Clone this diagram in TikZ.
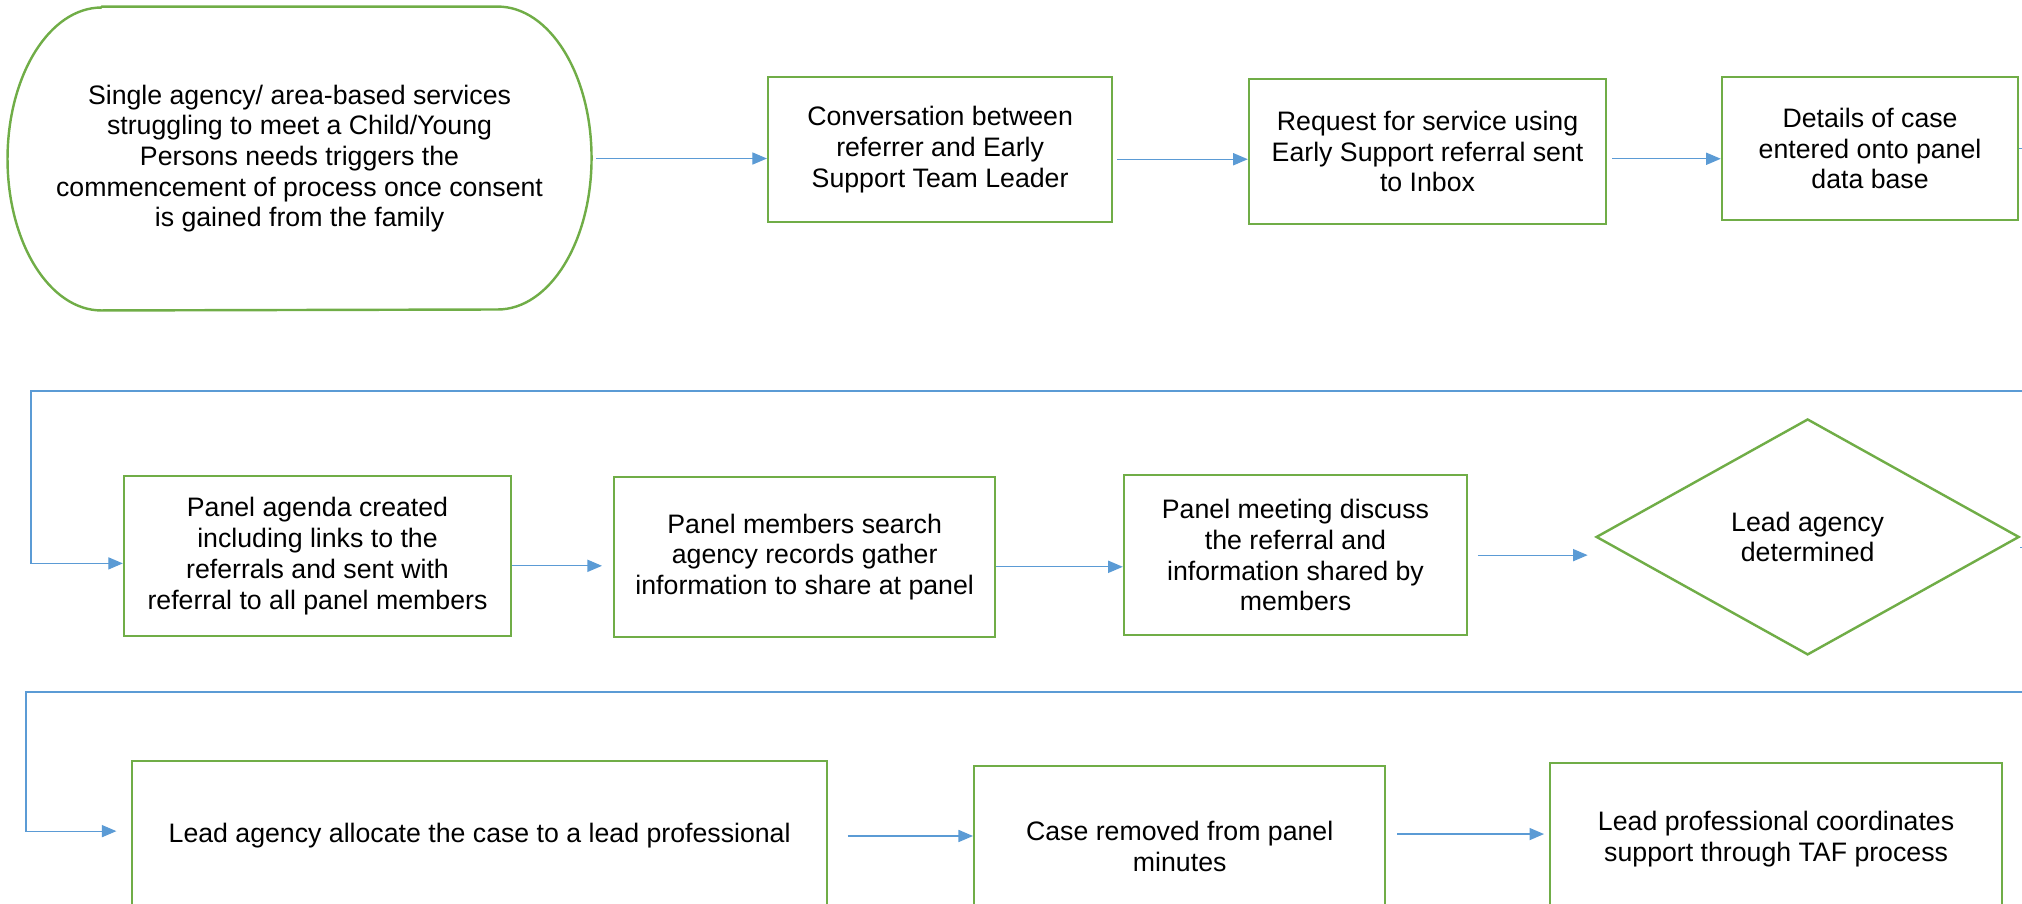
\documentclass[tikz,border=0pt]{standalone}
\usepackage{fontspec}
\setmainfont{Liberation Sans}
\usetikzlibrary{positioning, shapes.geometric, arrows.meta, calc}
\definecolor{boxgreen}{HTML}{70AD47}
\definecolor{lineblue}{HTML}{5B9BD5}

\begin{document}
\begin{tikzpicture}[x=1pt, y=-1pt, font=\fontsize{11}{12.65}\selectfont]
	\tikzstyle{obj} = [draw=boxgreen, line width=1pt, align=center, inner sep=0pt]
	\tikzstyle{term} = [align=center, inner sep=0pt, minimum width=240.2pt, minimum height=124.8pt]
	\tikzstyle{dec} = [diamond, draw=boxgreen, line width=1pt, align=center, inner sep=0pt]
	\tikzstyle{link} = [draw=lineblue, line width=0.5pt, -{Triangle[length=6pt,width=5pt]}]
	\tikzstyle{wire} = [draw=lineblue, line width=0.5pt]
	
	\useasboundingbox (0,0) rectangle (833,372.4);
	\clip (0,0) rectangle (833,372.4);
	
	% first row
	\node[term] (start) at (123.4,65.3) {Single agency/ area-based services\\struggling to meet a Child/Young\\Persons needs triggers the\\commencement of process once consent\\is gained from the family};
	\draw[boxgreen, line width=1pt, line join=round] ([xshift=38.7pt]start.north west) -- ([xshift=-38.7pt]start.north east)
		arc[start angle=90, end angle=-90, x radius=38.7pt, y radius=62.4pt]
		-- ([xshift=38.7pt]start.south west)
		arc[start angle=270, end angle=90, x radius=38.7pt, y radius=62.4pt] -- cycle;
	
	\node[obj, minimum width=141.7pt, minimum height=59.7pt] (conv) at (387.3,61.6) {Conversation between\\referrer and Early\\Support Team Leader};
	\node[obj, minimum width=147.1pt, minimum height=59.7pt] (request) at (588.1,62.4) {Request for service using\\Early Support referral sent\\to Inbox};
	\node[obj, minimum width=122pt, minimum height=58.9pt] (details) at (770.4,61.2) {Details of case\\entered onto panel\\data base};
	
	\draw[link, shorten <=2pt] (start.east) -- (start.east -| conv.west);
	\draw[link, shorten <=1.6pt] ([yshift=-4pt]conv.east) -- ([yshift=-4pt]conv.east -| request.west);
	\draw[link, shorten <=2pt] ([yshift=-3pt]request.east) -- ([yshift=-3pt]request.east -| details.west);
	
	% second row
	\node[obj, minimum width=159.4pt, minimum height=65.9pt] (agenda) at (130.8,229.1) {Panel agenda created\\including links to the\\referrals and sent with\\referral to all panel members};
	\node[obj, minimum width=157pt, minimum height=65.9pt] (search) at (331.5,229.5) {Panel members search\\agency records gather\\information to share at panel};
	\node[obj, minimum width=141.3pt, minimum height=65.9pt] (meeting) at (533.7,228.7) {Panel meeting discuss\\the referral and\\information shared by\\members};
	\node[dec, minimum width=174.3pt, minimum height=97.2pt] (lead) at (744.7,221.2) {Lead agency\\determined};
	
	\coordinate (edge1) at (833,161.1);
	\coordinate (bend1) at (12.8,161.1);
	\draw[wire] (details.east) -- (details.east -| edge1);
	\draw[link] (edge1) -- (bend1) |- ([yshift=-3pt]agenda.west);
	\draw[link, shorten >=4.5pt] ([yshift=-4pt]agenda.east) -- ([yshift=-4pt]agenda.east -| search.west);
	\draw[link] ([yshift=-4pt]search.east) -- ([yshift=-4pt]search.east -| meeting.west);
	\draw[link, shorten <=4pt, shorten >=3pt] (meeting.east) -- (meeting.east -| lead.west);
	
	% third row
	\node[obj, minimum width=286.3pt, minimum height=61.8pt] (allocate) at (197.6,344.4) {Lead agency allocate the case to a lead professional};
	\node[obj, minimum width=169.3pt, minimum height=65.9pt] (removed) at (486,348.6) {Case removed from panel\\minutes};
	\node[obj, minimum width=186.2pt, minimum height=62.6pt] (taf) at (731.7,345.7) {Lead professional coordinates\\support through TAF process};
	
	\coordinate (edge2) at (833,285.1);
	\coordinate (bend2) at (10.7,285.1);
	\draw[wire] ([yshift=-4.5pt]lead.east) -- ([yshift=-4.5pt]lead.east -| edge2);
	\draw[link, shorten >=6pt] (edge2) -- (bend2) |- ([yshift=2pt]allocate.west);
	\draw[link, shorten <=8pt] (allocate.east) -- (allocate.east -| removed.west);
	\draw[link, shorten <=4.5pt, shorten >=2pt] ([yshift=5pt]removed.east) -- ([yshift=5pt]removed.east -| taf.west);
\end{tikzpicture}
\end{document}
